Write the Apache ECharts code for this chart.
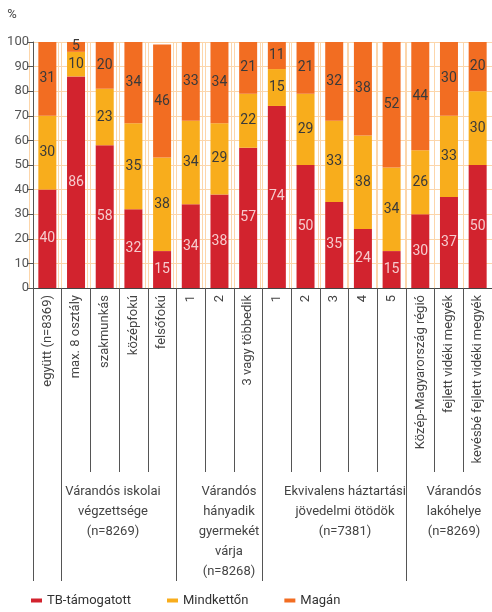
<!DOCTYPE html>
<html>
<head>
<meta charset="utf-8">
<script src="https://cdn.jsdelivr.net/npm/echarts@6/dist/echarts.min.js"></script>
<style>
  html, body { margin: 0; padding: 0; background: #fff; }
  #chart { width: 492px; height: 612px; }
</style>
</head>
<body>
<div id="chart"></div>
<script>
// Categories along the x axis
const categories = [
  'együtt (n=8369)',
  'max. 8 osztály', 'szakmunkás', 'középfokú', 'felsőfokú',
  '1', '2', '3 vagy többedik',
  '1', '2', '3', '4', '5',
  'Közép-Magyarország régió', 'fejlett vidéki megyék', 'kevésbé fejlett vidéki megyék'
];

// Shares (%) per category
const tbValues      = [40, 86, 58, 32, 15, 34, 38, 57, 74, 50, 35, 24, 15, 30, 37, 50];
const bothValues    = [30, 10, 23, 35, 38, 34, 29, 22, 15, 29, 33, 38, 34, 26, 33, 30];
const privateValues = [31,  5, 20, 34, 46, 33, 34, 21, 11, 21, 32, 38, 52, 44, 30, 20];

const seriesNames = ['TB-támogatott', 'Mindkettőn', 'Magán'];

// First category index of each group (long separator ticks)
const groupStarts = [0, 1, 5, 8, 13];
const groupTexts = [
  'Várandós iskolai\nvégzettsége\n(n=8269)',
  'Várandós\nhányadik\ngyermekét\nvárja\n(n=8268)',
  'Ekvivalens háztartási\njövedelmi ötödök\n(n=7381)',
  'Várandós\nlakóhelye\n(n=8269)'
];

const FONT = 'Roboto, "Noto Sans", sans-serif';
const GRID_LINE = '#fcd6ab';
const AXIS_COLOR = '#555';
const colors = ['#d2232e', '#f8ad1c', '#f26d22'];
const labelColors = ['#f6cbcd', '#3a3a3a', '#3a3a3a'];

const chart = echarts.init(document.getElementById('chart'), null, { renderer: 'canvas' });

const valueSets = [tbValues, bothValues, privateValues];
const series = seriesNames.map((name, i) => ({
  name: name,
  type: 'bar',
  stack: 'total',
  xAxisIndex: 0,
  yAxisIndex: 0,
  barWidth: 18,
  data: valueSets[i],
  itemStyle: { color: colors[i] },
  label: {
    show: true,
    position: 'inside',
    color: labelColors[i],
    fontSize: 14,
    fontFamily: FONT
  }
}));

const groupX = [113, 229, 345, 454];

chart.setOption({
  animation: false,
  textStyle: { fontFamily: FONT },
  grid: [
    { left: 33, right: -4, top: 42, bottom: 324 },
    { left: 29, right: 0, top: 42, bottom: 324 }
  ],
  xAxis: [
    {
      type: 'category',
      gridIndex: 0,
      data: categories,
      axisLine: { lineStyle: { color: '#444', width: 1 } },
      axisTick: { show: true, interval: 0, length: 184, lineStyle: { color: AXIS_COLOR } },
      axisLabel: { interval: 0, rotate: 90, margin: 7, color: '#444', fontSize: 13, fontFamily: FONT },
      splitLine: { show: true, interval: 0, lineStyle: { color: GRID_LINE, width: 1 } }
    },
    {
      type: 'category',
      gridIndex: 0,
      position: 'bottom',
      data: categories,
      axisLine: { show: false },
      axisTick: {
        show: true,
        length: 293,
        interval: (idx) => groupStarts.indexOf(idx) >= 0,
        lineStyle: { color: AXIS_COLOR }
      },
      axisLabel: { show: false },
      splitLine: { show: false }
    },
    {
      type: 'category',
      gridIndex: 1,
      data: categories,
      axisLine: { show: false },
      axisTick: { show: false },
      axisLabel: { show: false },
      splitLine: { show: true, interval: 0, lineStyle: { color: GRID_LINE, width: 1 } }
    }
  ],
  yAxis: [
    {
      type: 'value',
      gridIndex: 0,
      min: 0,
      max: 100,
      interval: 10,
      axisLine: { show: true, lineStyle: { color: AXIS_COLOR, width: 1 } },
      axisTick: { show: true, length: 6, lineStyle: { color: AXIS_COLOR } },
      axisLabel: { color: '#555', fontSize: 13, margin: 4, fontFamily: FONT },
      splitLine: { show: true, lineStyle: { color: GRID_LINE, width: 1 } }
    },
    { type: 'value', gridIndex: 1, show: false }
  ],
  legend: {
    data: seriesNames,
    left: 31,
    top: 594,
    padding: 0,
    icon: 'rect',
    itemWidth: 11,
    itemHeight: 4,
    itemGap: 36,
    textStyle: { color: '#333', fontSize: 13, fontFamily: FONT }
  },
  graphic: [
    {
      type: 'text',
      style: { text: '%', x: 12, y: 15, align: 'center', verticalAlign: 'middle', fontSize: 13, fontFamily: FONT, fill: '#444' }
    }
  ].concat(groupTexts.map((t, i) => ({
    type: 'text',
    style: {
      text: t,
      x: groupX[i],
      y: 482,
      align: 'center',
      verticalAlign: 'top',
      lineHeight: 20,
      fontSize: 13,
      fontFamily: FONT,
      fill: '#444'
    }
  }))),
  series: series
});
</script>
</body>
</html>
